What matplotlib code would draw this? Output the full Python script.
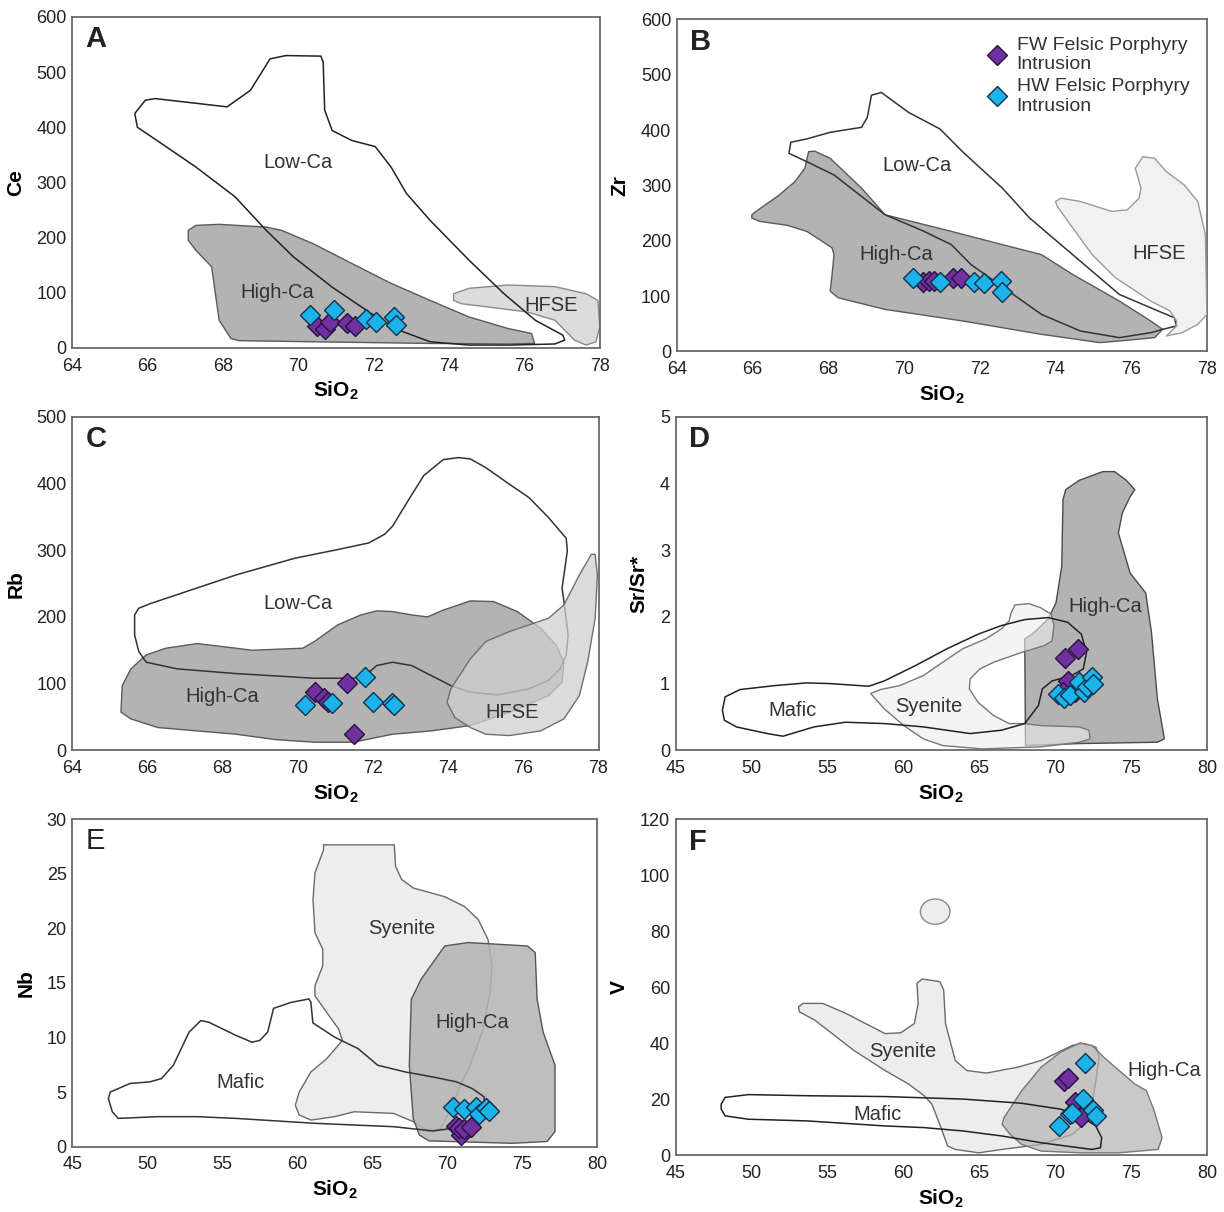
import matplotlib.pyplot as plt
from matplotlib.patches import Polygon, Ellipse

plt.rcParams['font.family'] = ['Liberation Sans', 'DejaVu Sans']
plt.rcParams['mathtext.fontset'] = 'custom'
plt.rcParams['mathtext.rm'] = 'Liberation Sans'
plt.rcParams['mathtext.bf'] = 'Liberation Sans:bold'

# ---- panel A: Ce vs SiO2 ----
a_lowca = [(65.66, 425), (65.94, 449), (66.2, 452), (68.11, 437), (68.73, 467), (69.25, 524),
           (69.67, 530), (70.6, 529), (70.66, 518), (70.7, 431), (70.9, 394), (71.42, 376),
           (72.04, 365), (72.46, 328), (72.87, 280), (73.5, 231), (74.53, 159), (75.46, 98),
           (76.29, 50), (77.02, 23), (77.07, 14), (76.81, 7), (75.57, 5), (74.53, 5),
           (73.5, 11), (72.67, 32), (71.94, 62), (70.9, 110), (69.87, 165), (69.15, 213),
           (68.32, 274), (67.28, 328), (66.25, 376), (65.73, 400)]
a_highca = [(67.08, 213), (67.28, 222), (67.9, 224), (69.15, 219), (69.56, 213), (70.39, 189),
            (71.42, 153), (72.46, 117), (73.5, 86), (74.53, 56), (75.57, 35), (76.19, 26),
            (76.27, 8), (75.57, 7), (73.5, 8), (70.39, 11), (68.42, 13), (68.21, 17),
            (67.9, 50), (67.8, 98), (67.7, 147), (67.28, 177), (67.08, 195)]
a_hfse = [(74.12, 98), (74.53, 108), (75.57, 114), (76.81, 111), (77.64, 98), (77.95, 86),
          (78.0, 38), (77.9, 11), (77.64, 5), (77.33, 14), (76.81, 50), (76.08, 65),
          (75.05, 74), (74.33, 80), (74.12, 86)]
a_fw_x = [70.5, 70.7, 70.85, 71.3, 71.5]
a_fw_y = [40, 35, 47, 45, 40]
a_hw_x = [70.3, 70.95, 71.8, 72.05, 72.55, 72.6]
a_hw_y = [59, 68, 53, 47, 56, 42]

# ---- panel B: Zr vs SiO2 ----
b_lowca = [(66.96, 358), (67.01, 378), (67.43, 384), (68.05, 396), (68.88, 405), (69.03, 423),
           (69.14, 463), (69.4, 468), (70.12, 432), (70.95, 402), (71.56, 360), (72.6, 295),
           (73.32, 241), (74.66, 163), (75.69, 103), (76.72, 73), (77.14, 61), (77.2, 46),
           (76.83, 40), (76.52, 34), (75.69, 25), (74.66, 37), (73.63, 67), (73.01, 97),
           (72.39, 127), (71.77, 157), (71.25, 193), (70.53, 217), (69.5, 247), (68.15, 319),
           (67.43, 343)]
b_highca = [(65.98, 247), (66.09, 253), (66.71, 283), (67.12, 307), (67.38, 331), (67.48, 361),
            (67.64, 362), (68.05, 349), (68.88, 295), (69.5, 247), (71.25, 217), (72.6, 193),
            (73.63, 175), (74.46, 139), (75.69, 91), (76.52, 55), (76.83, 40), (76.62, 25),
            (75.69, 19), (75.18, 16), (73.63, 31), (71.56, 55), (69.5, 76), (68.26, 97),
            (68.05, 109), (68.1, 139), (68.15, 175), (68.1, 187), (67.84, 199), (67.43, 217),
            (66.91, 228), (66.19, 235), (65.98, 241)]
b_hfse = [(74.0, 271), (74.15, 277), (74.66, 271), (75.49, 253), (75.9, 256), (76.21, 277),
          (76.26, 295), (76.11, 331), (76.31, 352), (76.62, 349), (76.93, 325), (77.4, 301),
          (77.76, 271), (77.96, 211), (78.0, 67), (77.76, 49), (77.35, 34), (76.93, 28),
          (77.2, 46), (77.2, 55), (77.03, 73), (76.52, 91), (75.59, 133), (74.97, 175),
          (74.46, 223), (74.05, 262)]
b_fw_x = [70.5, 70.65, 70.8, 71.3, 71.5]
b_fw_y = [125, 128, 127, 133, 132]
b_hw_x = [70.25, 70.95, 71.85, 72.1, 72.55, 72.6]
b_hw_y = [133, 126, 125, 124, 127, 108]

# ---- panel C: Rb vs SiO2 ----
c_lowca = [(65.66, 203), (65.77, 213), (66.08, 220), (68.36, 263), (69.92, 288), (71.06, 301),
           (71.89, 311), (72.31, 324), (72.52, 336), (72.93, 374), (73.35, 412), (73.87, 436),
           (74.28, 439), (74.59, 437), (75.0, 424), (75.63, 399), (76.15, 379), (76.67, 349),
           (77.14, 318), (77.17, 299), (77.08, 263), (77.03, 243), (77.08, 223), (77.19, 173),
           (77.14, 143), (76.98, 122), (76.67, 105), (76.15, 92), (75.32, 83), (74.59, 87),
           (74.07, 97), (73.55, 112), (73.03, 127), (72.52, 132), (72.1, 127), (71.79, 112),
           (71.48, 108), (70.44, 108), (68.36, 115), (66.8, 122), (65.97, 132), (65.77, 148),
           (65.66, 173)]
c_highca = [(65.3, 62), (65.33, 97), (65.56, 122), (65.97, 143), (66.49, 153), (67.32, 160),
            (68.36, 153), (68.78, 150), (70.13, 153), (70.44, 163), (71.06, 188), (71.68, 203),
            (72.1, 209), (72.52, 208), (73.03, 203), (73.45, 200), (73.86, 210), (74.59, 224),
            (75.21, 223), (75.84, 208), (76.46, 183), (76.87, 158), (77.08, 132), (77.03, 102),
            (76.67, 82), (75.63, 57), (74.59, 37), (73.55, 29), (72.52, 24), (71.48, 12),
            (70.44, 12), (69.4, 16), (68.36, 24), (66.28, 34), (65.56, 47), (65.3, 57)]
c_hfse = [(73.97, 72), (74.07, 92), (74.59, 137), (75.0, 163), (75.63, 178), (76.15, 188),
          (76.67, 198), (77.08, 218), (77.49, 263), (77.81, 294), (77.91, 294), (77.97, 263),
          (77.91, 198), (77.71, 132), (77.49, 82), (77.08, 47), (76.46, 29), (75.63, 22),
          (75.0, 24), (74.59, 34), (74.18, 49)]
c_fw_x = [70.45, 70.7, 70.8, 71.3, 71.5]
c_fw_y = [87, 78, 72, 101, 24]
c_hw_x = [70.2, 70.9, 71.8, 72.0, 72.5, 72.55]
c_hw_y = [68, 71, 110, 72, 71, 68]

# ---- panel D: Sr/Sr* vs SiO2 ----
d_mafic = [(48.08, 0.60), (48.26, 0.80), (49.24, 0.91), (51.55, 0.97), (53.61, 1.01), (55.15, 1.0),
           (57.72, 0.96), (58.75, 1.04), (60.8, 1.27), (62.86, 1.52), (64.92, 1.74), (66.46, 1.87),
           (68.0, 1.96), (69.54, 1.99), (70.83, 1.92), (71.73, 1.74), (72.07, 1.47), (71.86, 1.22),
           (71.09, 1.12), (69.8, 1.04), (69.16, 0.92), (68.9, 0.67), (68.0, 0.40), (66.46, 0.30),
           (64.4, 0.25), (61.32, 0.35), (58.75, 0.40), (56.18, 0.42), (54.12, 0.35), (52.07, 0.21),
           (51.04, 0.25), (49.0, 0.35), (48.21, 0.45)]
d_syenite = [(57.85, 0.85), (58.75, 0.62), (60.03, 0.37), (61.32, 0.17), (62.6, 0.07), (65.17, 0.02),
             (69.03, 0.05), (71.6, 0.12), (72.31, 0.17), (72.23, 0.30), (71.6, 0.35), (69.03, 0.37),
             (68.0, 0.40), (66.97, 0.40), (65.95, 0.52), (64.92, 0.72), (64.35, 0.92), (64.4, 1.07),
             (65.05, 1.22), (65.95, 1.32), (67.7, 1.46), (69.29, 1.57), (69.8, 1.64), (69.93, 1.87),
             (69.75, 2.04), (69.03, 2.14), (68.26, 2.2), (67.36, 2.18), (67.1, 2.06), (66.97, 1.94),
             (66.46, 1.82), (65.43, 1.67), (63.89, 1.52), (62.6, 1.32), (61.32, 1.12), (59.77, 0.97),
             (58.49, 0.91)]
d_highca = [(68.05, 0.07), (68.0, 1.67), (68.64, 1.77), (69.54, 1.97), (70.06, 2.21), (70.44, 2.76),
            (70.52, 3.76), (70.7, 3.91), (71.6, 4.05), (73.15, 4.18), (73.92, 4.18), (74.69, 4.05),
            (75.25, 3.91), (74.94, 3.8), (74.43, 3.56), (74.17, 3.26), (74.94, 2.66), (75.97, 2.36),
            (76.35, 1.77), (76.74, 0.77), (77.2, 0.17), (76.74, 0.12), (71.6, 0.10)]
d_fw_x = [70.65, 71.5, 70.85, 70.5, 71.3]
d_fw_y = [1.38, 1.52, 1.04, 0.88, 0.87]
d_hw_x = [70.2, 70.6, 71.0, 71.6, 71.9, 72.1, 72.4, 72.5]
d_hw_y = [0.85, 0.78, 0.83, 1.02, 0.88, 0.95, 1.1, 1.0]

# ---- panel E: Nb vs SiO2 ----
e_mafic = [(47.41, 4.41), (47.54, 5.0), (48.85, 5.78), (50.17, 5.93), (50.95, 6.23), (51.74, 7.45),
           (52.79, 10.49), (53.57, 11.55), (54.1, 11.4), (55.93, 10.18), (56.98, 9.57), (57.5, 9.73),
           (58.03, 10.49), (58.42, 12.67), (59.6, 13.22), (60.78, 13.53), (60.91, 13.22), (61.04, 11.34),
           (62.49, 10.03), (64.06, 8.97), (65.37, 7.45), (67.2, 6.84), (69.04, 6.38), (70.61, 5.93),
           (71.66, 5.32), (72.45, 4.56), (72.5, 3.8), (71.92, 2.43), (70.35, 1.67), (69.04, 1.43),
           (66.42, 1.82), (61.18, 2.13), (55.93, 2.58), (53.31, 2.74), (50.69, 2.74), (48.07, 2.58),
           (47.67, 3.19)]
e_syenite = [(61.75, 27.66), (66.47, 27.66), (66.55, 25.7), (66.95, 24.5), (67.74, 23.7), (69.84, 22.9),
             (71.15, 22.0), (72.07, 20.8), (72.71, 19.0), (72.98, 16.6), (72.85, 14.1), (72.32, 10.5),
             (71.53, 7.45), (70.88, 5.6), (70.35, 3.8), (69.57, 1.67), (68.78, 1.37), (67.74, 2.28),
             (66.42, 3.04), (63.8, 3.19), (62.49, 2.74), (60.91, 2.43), (60.13, 2.89), (59.87, 3.8),
             (60.13, 5.0), (60.91, 6.84), (61.96, 8.05), (63.01, 9.73), (62.75, 10.79), (61.96, 12.3),
             (61.18, 13.83), (61.18, 14.74), (61.7, 16.57), (61.7, 18.09), (61.18, 19.6), (61.05, 22.64),
             (61.18, 25.08), (61.75, 27.2)]
e_highca = [(67.6, 13.5), (68.26, 15.35), (69.83, 18.39), (71.4, 18.7), (75.34, 18.39), (75.86, 17.78),
            (75.99, 13.5), (76.39, 10.49), (77.18, 7.45), (77.18, 1.37), (76.65, 0.46), (74.29, 0.30),
            (68.78, 0.52), (68.13, 1.06), (67.73, 2.58), (67.47, 7.45)]
e_fw_x = [70.6, 70.9, 70.8, 71.1, 71.6]
e_fw_y = [1.9, 1.1, 1.7, 1.6, 1.8]
e_hw_x = [70.4, 71.1, 71.9, 72.1, 72.6, 72.8]
e_hw_y = [3.6, 3.4, 3.6, 3.0, 3.5, 3.3]

# ---- panel F: V vs SiO2 ----
f_mafic = [(48.0, 18.2), (48.26, 20.6), (49.8, 21.6), (53.66, 21.2), (58.8, 20.9), (63.94, 20.0),
           (67.8, 18.5), (70.37, 16.4), (71.65, 14.0), (72.68, 10.4), (73.07, 6.2), (72.99, 2.6),
           (72.42, 2.0), (69.08, 4.4), (66.51, 6.8), (63.94, 8.6), (61.37, 9.8), (58.8, 10.4),
           (53.66, 12.2), (49.8, 12.8), (48.26, 14.0), (48.0, 16.4)]
f_syenite = [(53.1, 53.0), (53.41, 54.2), (54.69, 54.2), (56.23, 50.6), (58.8, 43.4), (59.83, 43.7),
             (60.73, 47.0), (60.98, 54.2), (60.9, 61.4), (61.24, 62.9), (62.4, 62.0), (62.66, 59.0),
             (62.78, 47.0), (63.42, 33.8), (64.19, 30.2), (65.48, 29.3), (67.54, 31.4), (69.08, 33.8),
             (71.14, 39.2), (71.79, 39.8), (72.69, 38.6), (72.9, 35.0), (72.69, 26.6), (72.43, 18.2),
             (71.91, 11.0), (71.14, 7.4), (69.08, 3.8), (66.51, 2.0), (64.97, 0.8), (63.43, 2.0),
             (62.92, 3.2), (62.4, 11.0), (61.88, 18.2), (61.37, 21.2), (60.34, 25.4), (58.8, 30.2),
             (56.74, 37.4), (54.17, 48.2), (53.15, 51.2)]
f_syenite_dot = (62.1, 87.0)
f_highca = [(66.51, 11.0), (66.64, 13.4), (67.8, 23.0), (69.08, 31.4), (70.37, 36.8), (71.65, 40.1),
            (72.43, 39.2), (73.2, 35.0), (74.22, 30.2), (75.25, 25.4), (76.02, 23.0), (76.53, 15.8),
            (77.05, 6.2), (76.79, 2.0), (74.22, 0.8), (71.65, 0.8), (69.08, 1.4), (67.8, 3.8),
            (67.03, 7.4)]
f_fw_x = [70.6, 70.85, 71.3, 71.7]
f_fw_y = [26.5, 27.5, 19.0, 13.5]
f_hw_x = [72.0, 71.85, 71.0, 70.25, 72.5, 72.7, 71.1]
f_hw_y = [33, 20, 14.5, 10.5, 16, 14, 15]

FW_COLOR = '#7030a0'
HW_COLOR = '#1cb2ea'
DARK = '#b3b3b3'
LIGHT = '#dcdcdc'
PALE = '#ededed'
EDGE = '#5a5a5a'


def add_field(ax, pts, face, edge=EDGE, lw=1.0, alpha=1.0, z=1):
    ax.add_patch(Polygon(pts, closed=True, facecolor=face, edgecolor='none',
                         alpha=alpha, zorder=z))
    ax.add_patch(Polygon(pts, closed=True, facecolor='none', edgecolor=edge,
                         lw=lw, zorder=z + 0.5, joinstyle='round'))


def add_points(ax, fx, fy, hx, hy):
    ax.plot(fx, fy, 'D', ms=10, mfc=FW_COLOR, mec='#2a123f', mew=1.0, ls='none', zorder=10)
    ax.plot(hx, hy, 'D', ms=10, mfc=HW_COLOR, mec='#12304a', mew=1.0, ls='none', zorder=11)


def setup(ax, xlim, ylim, xt, yt, ylab, letter, bold_letter=True):
    ax.set_xlim(*xlim)
    ax.set_ylim(*ylim)
    ax.set_xticks(xt)
    ax.set_yticks(yt)
    ax.tick_params(length=0, labelsize=13, colors='#222222')
    ax.tick_params(axis='x', pad=7)
    ax.tick_params(axis='y', pad=4)
    for s in ax.spines.values():
        s.set_color('#6a6a6a')
        s.set_linewidth(1.3)
    ax.set_xlabel(r'$\mathbf{SiO_2}$', fontsize=15, labelpad=4)
    ax.set_ylabel(ylab, fontsize=15, fontweight='bold', labelpad=8)
    ax.text(0.025, 0.975, letter, transform=ax.transAxes, ha='left', va='top',
            fontsize=21, fontweight='bold' if bold_letter else 'normal', color='#222222')


def label(ax, x, y, s):
    ax.text(x, y, s, ha='center', va='center', fontsize=14.5, color='#333333', zorder=12)


fig = plt.figure(figsize=(12.24, 12.12), dpi=100)

# A
ax = fig.add_axes([0.059, 0.713, 0.431, 0.273])
ax.add_patch(Polygon(a_lowca, closed=True, facecolor='white', edgecolor='none', zorder=0.5))
add_field(ax, a_highca, DARK, z=1)
add_field(ax, a_hfse, LIGHT, edge='#8a8a8a', z=2)
ax.add_patch(Polygon(a_lowca, closed=True, facecolor='none', edgecolor='#222222', lw=1.1, zorder=5))
label(ax, 70.0, 336, 'Low-Ca')
label(ax, 69.45, 101, 'High-Ca')
label(ax, 76.7, 77, 'HFSE')
add_points(ax, a_fw_x, a_fw_y, a_hw_x, a_hw_y)
setup(ax, (64, 78), (0, 600), range(64, 79, 2), range(0, 601, 100), 'Ce', 'A')

# B
ax = fig.add_axes([0.553, 0.710, 0.433, 0.274])
ax.add_patch(Polygon(b_lowca, closed=True, facecolor='white', edgecolor='none', zorder=0.5))
add_field(ax, b_highca, DARK, z=1)
ax.add_patch(Polygon(b_lowca, closed=True, facecolor='none', edgecolor='#333333', lw=1.1, zorder=3))
add_field(ax, b_hfse, PALE, edge='#9a9a9a', alpha=0.75, z=4)
label(ax, 70.35, 336, 'Low-Ca')
label(ax, 69.8, 175, 'High-Ca')
label(ax, 76.75, 177, 'HFSE')
ax.plot([], [], 'D', ms=10, mfc=FW_COLOR, mec='#2a123f', label='FW Felsic Porphyry\nIntrusion')
ax.plot([], [], 'D', ms=10, mfc=HW_COLOR, mec='#12304a', label='HW Felsic Porphyry\nIntrusion')
add_points(ax, b_fw_x, b_fw_y, b_hw_x, b_hw_y)
setup(ax, (64, 78), (0, 600), range(64, 79, 2), range(0, 601, 100), 'Zr', 'B')
ax.legend(loc='upper right', frameon=False, fontsize=14, handletextpad=0.5,
          labelspacing=0.25, borderaxespad=0.5, handlelength=1.0,
          labelcolor='#333333')

# C
ax = fig.add_axes([0.059, 0.381, 0.430, 0.275])
ax.add_patch(Polygon(c_lowca, closed=True, facecolor='white', edgecolor='none', zorder=0.5))
add_field(ax, c_highca, DARK, z=1)
ax.add_patch(Polygon(c_lowca, closed=True, facecolor='none', edgecolor='#333333', lw=1.1, zorder=3))
add_field(ax, c_hfse, '#d0d0d0', edge='#707070', alpha=0.75, z=4)
label(ax, 70.0, 220, 'Low-Ca')
label(ax, 68.0, 80, 'High-Ca')
label(ax, 75.7, 57, 'HFSE')
add_points(ax, c_fw_x, c_fw_y, c_hw_x, c_hw_y)
setup(ax, (64, 78), (0, 500), range(64, 79, 2), range(0, 501, 100), 'Rb', 'C')

# D
ax = fig.add_axes([0.552, 0.381, 0.434, 0.275])
ax.add_patch(Polygon(d_mafic, closed=True, facecolor='white', edgecolor='none', zorder=0.5))
add_field(ax, d_highca, DARK, edge='#4a4a4a', z=1)
add_field(ax, d_syenite, PALE, edge='#777777', alpha=0.6, z=2)
ax.add_patch(Polygon(d_mafic, closed=True, facecolor='none', edgecolor='#222222', lw=1.1, zorder=5))
label(ax, 73.3, 2.16, 'High-Ca')
label(ax, 52.7, 0.6, 'Mafic')
label(ax, 61.7, 0.65, 'Syenite')
add_points(ax, d_fw_x, d_fw_y, d_hw_x, d_hw_y)
setup(ax, (45, 80), (0, 5), range(45, 81, 5), range(0, 6, 1), 'Sr/Sr*', 'D')

# E
ax = fig.add_axes([0.059, 0.054, 0.429, 0.270])
ax.add_patch(Polygon(e_mafic, closed=True, facecolor='white', edgecolor='none', zorder=0.5))
add_field(ax, e_syenite, PALE, edge='#6a6a6a', z=1)
add_field(ax, e_highca, DARK, edge='#555555', alpha=0.85, z=2)
ax.add_patch(Polygon(e_mafic, closed=True, facecolor='none', edgecolor='#333333', lw=1.1, zorder=5))
label(ax, 66.95, 20.0, 'Syenite')
label(ax, 71.65, 11.4, 'High-Ca')
label(ax, 56.2, 5.9, 'Mafic')
add_points(ax, e_fw_x, e_fw_y, e_hw_x, e_hw_y)
setup(ax, (45, 80), (0, 30), range(45, 81, 5), range(0, 31, 5), 'Nb', 'E', bold_letter=False)

# F
ax = fig.add_axes([0.552, 0.047, 0.434, 0.277])
ax.add_patch(Polygon(f_mafic, closed=True, facecolor='white', edgecolor='none', zorder=0.5))
add_field(ax, f_syenite, PALE, edge='#6a6a6a', z=1)
ax.add_patch(Ellipse(f_syenite_dot, 1.95, 9.0, facecolor=PALE, edgecolor='#8a8a8a', lw=1.0, zorder=1))
add_field(ax, f_highca, DARK, edge='#777777', alpha=0.7, z=2)
ax.add_patch(Polygon(f_mafic, closed=True, facecolor='none', edgecolor='#222222', lw=1.1, zorder=5))
label(ax, 59.95, 36.9, 'Syenite')
label(ax, 77.2, 30.2, 'High-Ca')
label(ax, 58.3, 14.4, 'Mafic')
add_points(ax, f_fw_x, f_fw_y, f_hw_x, f_hw_y)
setup(ax, (45, 80), (0, 120), range(45, 81, 5), range(0, 121, 20), 'V', 'F')

fig.savefig('out.png', dpi=100)
